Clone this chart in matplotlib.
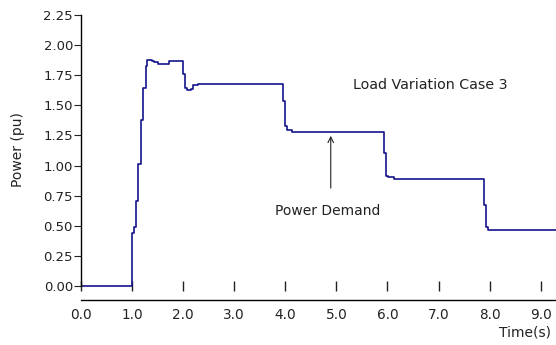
import matplotlib
matplotlib.use("Agg")
import matplotlib.pyplot as plt

plt.rcParams['font.family'] = ['DejaVu Sans']
plt.rcParams['font.size'] = 10

# step changes of the load (time in s, power in pu)
t_step = [0.0, 1.004, 1.037, 1.076, 1.121, 1.168, 1.219, 1.266, 1.297, 1.384,
          1.434, 1.513, 1.728, 1.990, 2.035, 2.068, 2.153, 2.198, 2.284, 3.947,
          3.992, 4.037, 4.123, 5.930, 5.963, 6.014, 6.131, 7.892, 7.939, 7.975,
          9.3]
p_step = [0.0, 0.444, 0.488, 0.706, 1.009, 1.376, 1.643, 1.830, 1.878, 1.870,
          1.859, 1.842, 1.864, 1.762, 1.643, 1.624, 1.638, 1.665, 1.680, 1.533,
          1.325, 1.292, 1.279, 1.105, 0.915, 0.903, 0.885, 0.670, 0.492, 0.468,
          0.468]

xticks = [0, 1, 2, 3, 4, 5, 6, 7, 8, 9]
yticks = [0, 0.25, 0.5, 0.75, 1.0, 1.25, 1.5, 1.75, 2.0, 2.25]

txt = '#222222'

fig = plt.figure(figsize=(5.56, 3.45), dpi=100)
ax = fig.add_axes([81/556, 1-300/345, 475/556, 285/345])

ax.plot(t_step, p_step, drawstyle='steps-post', color='#14148c', lw=1.2)

ax.set_xlim(0, 9.3)
ax.set_ylim(-0.116, 2.25)

for s in ['top', 'right']:
    ax.spines[s].set_visible(False)
ax.spines['left'].set_bounds(0, 2.25)
ax.spines['left'].set_linewidth(1.0)
ax.spines['bottom'].set_linewidth(1.0)

ax.set_yticks(yticks)
ax.set_yticklabels(['%.2f' % v for v in yticks], fontsize=9.5)
ax.tick_params(axis='y', direction='out', length=5, width=0.8, pad=0.8, colors=txt)
ax.set_xticks(xticks)
ax.set_xticklabels(['%.1f' % v for v in xticks], fontsize=9.8)
ax.tick_params(axis='x', length=0, pad=6, colors=txt)

# floating tick marks at the zero level
sec = ax.secondary_xaxis(0.116 / 2.366)
sec.spines['bottom'].set_visible(False)
sec.set_xticks(xticks)
sec.tick_params(axis='x', direction='inout', length=7, width=1.0, labelbottom=False, colors=txt)

fig.text(18/556, 1-150/345, 'Power (pu)', rotation=90, ha='center', va='center', color=txt)
fig.text(551/556, 1-333/345, 'Time(s)', ha='right', va='center', color=txt)

ax.text(5.32, 1.67, 'Load Variation Case 3', va='center', ha='left', color=txt, fontsize=10.3)
ax.annotate('', xy=(4.89, 1.27), xytext=(4.89, 0.79),
            arrowprops=dict(arrowstyle='->', color=txt, lw=0.8))
ax.text(4.83, 0.62, 'Power Demand', va='center', ha='center', color=txt)

fig.savefig('out.png', dpi=100)
